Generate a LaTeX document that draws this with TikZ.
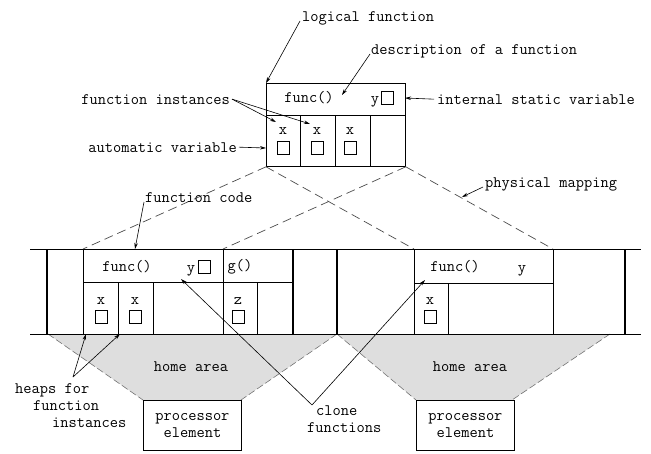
\documentclass[tikz,border=0pt]{standalone}
\usetikzlibrary{arrows.meta}
\begin{document}
\begin{tikzpicture}[x=1pt,y=-1pt,
  txt/.style={font=\ttfamily\fontsize{16}{17}\selectfont, inner sep=0pt},
  arr/.style={-{Stealth[length=6pt,width=3.5pt]}, line width=0.6pt},
  ln/.style={line width=0.8pt},
  thk/.style={line width=1.5pt},
  map/.style={dash pattern=on 9pt off 5pt, line width=0.7pt, black!70},
  edge/.style={dash pattern=on 7pt off 3pt, line width=0.6pt, black!55},
  home/.style={fill=black!13},
  cell/.style={draw, line width=0.5pt, minimum width=12pt, minimum height=13pt, inner sep=0pt},
  pebox/.style={draw, line width=0.8pt, minimum width=98pt, minimum height=50pt, anchor=north west, align=center},
]
\useasboundingbox (0,0) rectangle (651,453);

% ---------- home areas (shaded) ----------
\fill[home] (48,334) -- (337,334) -- (241,400) -- (143,400) -- cycle;
\fill[home] (337,334) -- (610,334) -- (512,400) -- (416,400) -- cycle;
\draw[edge] (48,334) -- (143,400);
\draw[edge] (337,334) -- (241,400);
\draw[edge] (337,334) -- (416,400);
\draw[edge] (610,334) -- (512,400);

% ---------- logical function box ----------
\node[draw, line width=0.8pt, minimum width=139pt, minimum height=83pt, anchor=north west, inner sep=0pt] (lfbox) at (266,83) {};
\draw[line width=0.5pt] (266,115) -- (405,115);
\foreach \x in {300,335,370} \draw[line width=0.5pt] (\x,115) -- (\x,166);
\node[txt] (tfunc) at (309,98) {func()};
\node[txt, anchor=base] (ty) at (375,103) {y};
\node[cell] (ys) at (387,98) {};
\node[txt] (x1) at (283,131) {x};
\node[txt] (x2) at (317,131) {x};
\node[txt] (x3) at (350,131) {x};
\node[cell] (xb1) at (283,148) {};
\node[cell] (xb2) at (317,148) {};
\node[cell] (xb3) at (350,148) {};

% ---------- labels of the logical function ----------
\node[txt, anchor=base west] (tlog) at (302,21) {logical function};
\node[txt, anchor=base west] (tdesc) at (371,54) {description of a function};
\node[txt, anchor=base west] (tisv) at (437,104) {internal static variable};
\node[txt, anchor=base east] (tfi) at (230,104) {function instances};
\node[txt, anchor=base east] (tav) at (237,152) {automatic variable};
\coordinate (desctip) at (342,95);
\coordinate (isvtip) at (405,98);
\coordinate (fi1) at (276,122);
\coordinate (fi2) at (310,124);
\coordinate (avtip) at (266,148);
\draw[arr] ([xshift=-2pt]tlog.base west) -- (lfbox.north west);
\draw[arr] ([xshift=-1pt]tdesc.base west) -- (desctip);
\draw[arr] ([xshift=-3pt]tisv.west) -- (isvtip);
\draw[arr] ([xshift=2pt]tfi.east) -- (fi1);
\draw[arr] ([xshift=2pt]tfi.east) -- (fi2);
\draw[arr] ([xshift=2pt]tav.east) -- (avtip);

% ---------- physical mapping ----------
\coordinate (c1l) at (83,249);
\coordinate (c1r) at (223,249);
\coordinate (c2l) at (414,249);
\coordinate (c2r) at (553,249);
\draw[map] (lfbox.south west) -- (c1l);
\draw[map] (lfbox.south east) -- (c1r);
\draw[map] (lfbox.south west) -- (c2l);
\draw[map] (lfbox.south east) -- (c2r);
\node[txt, anchor=base west] (tpm) at (485,187) {physical mapping};
\coordinate (pmtip) at (462,197);
\draw[arr] ([xshift=-2pt]tpm.base west) -- (pmtip);

% ---------- memory band ----------
\draw[ln] (30,249) -- (641,249);
\draw[ln] (30,334) -- (641,334);
\foreach \x in {47,293,337,625} \draw[thk] (\x,249) -- (\x,334);
\foreach \x in {83,223,414,553} \draw[ln] (\x,249) -- (\x,334);
\draw[line width=0.5pt] (83,282) -- (293,282);
\draw[line width=0.5pt] (414,283) -- (553,283);
\foreach \x in {118,153,257} \draw[line width=0.5pt] (\x,282) -- (\x,334);
\draw[line width=0.5pt] (448,283) -- (448,334);

% clone 1
\node[txt] (cf1) at (127,267) {func()};
\node[txt, anchor=base] (cy1) at (191,272) {y};
\node[cell] (cys1) at (204,267) {};
\node[txt] (cg) at (240,267) {g()};
\node[txt] (cx1) at (101,301) {x};
\node[txt] (cx2) at (135,301) {x};
\node[txt] (cz) at (238,301) {z};
\node[cell] (cxb1) at (101,317) {};
\node[cell] (cxb2) at (135,317) {};
\node[cell] (czb) at (238,317) {};
% clone 2
\node[txt] (cf2) at (455,267) {func()};
\node[txt, anchor=base] (cy2) at (522,272) {y};
\node[txt] (cx3) at (430,301) {x};
\node[cell] (cxb3) at (430,317) {};

% function code
\node[txt, anchor=base west] (tfc) at (145,202) {function code};
\coordinate (fctip) at (135,249);
\draw[arr] ([xshift=-1pt]tfc.base west) -- (fctip);

% ---------- home areas, processor elements ----------
\node[txt] (ha1) at (191,367) {home area};
\node[txt] (ha2) at (470,367) {home area};
\node[pebox, txt] (pe1) at (143,400) {processor\\element};
\node[pebox, txt] (pe2) at (416,400) {processor\\element};

% heaps for function instances
\node[txt, anchor=north west, align=left] (theap) at (15,383) {heaps for\\\hspace{18pt}function\\\hspace{37pt}instances};
\coordinate (hp) at (73,377);
\coordinate (h1) at (86,334);
\coordinate (h2) at (120,334);
\draw[arr] (hp) -- (h1);
\draw[arr] (hp) -- (h2);

% clone functions
\node[txt, anchor=north west, align=left] (tclone) at (307,406) {\hspace{9pt}clone\\functions};
\coordinate (cl) at (312,405);
\coordinate (cl1) at (181,279);
\coordinate (cl2) at (425,280);
\draw[arr] (cl) -- (cl1);
\draw[arr] (cl) -- (cl2);
\end{tikzpicture}
\end{document}
